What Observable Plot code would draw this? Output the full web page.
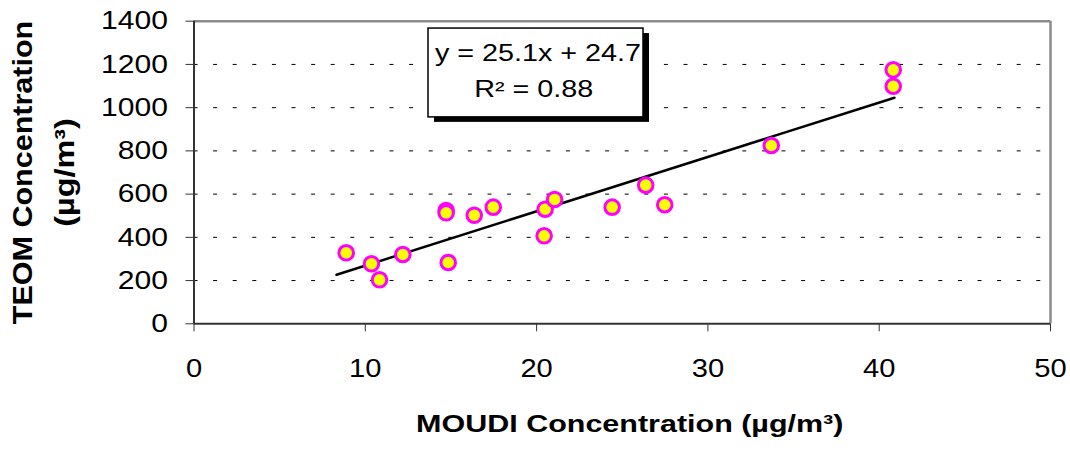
<!DOCTYPE html>
<html>
<head>
<meta charset="utf-8">
<script src="https://cdn.jsdelivr.net/npm/d3@7"></script>
<script src="https://cdn.jsdelivr.net/npm/@observablehq/plot@0.6"></script>
<style>
  html, body { margin: 0; padding: 0; background: #fff; }
  svg { display: block; }
</style>
</head>
<body>
<div id="chart"></div>
<script>
// ---- data ----
const moudi = [8.885, 10.36, 10.83, 12.19, 14.72, 14.72, 14.84, 16.36, 17.47, 20.44, 20.50, 21.05, 24.41, 26.37, 27.48, 33.70, 40.82, 40.82];
const teom  = [328.5, 277.6, 203.6, 320.7, 524.3, 513.6, 283.7, 502.5, 539.6, 407.2, 530.3, 575.2, 539.6, 641.4, 550.7, 825.0, 1175, 1099];
const trendX = [8.32, 40.89];
const trendY = [226.7, 1046];
const xTicks = [0, 10, 20, 30, 40, 50];
const yTicks = [0, 200, 400, 600, 800, 1000, 1200, 1400];
const gridY = [200, 400, 600, 800, 1000, 1200];
const eqLines = ["y = 25.1x + 24.7", "R\u00B2 = 0.88"];
const eqLineX = [20.08, 19.83];
const eqLineY = [1249, 1083];
const eqBoxX = [13.69, 26.24];
const eqBoxY = [955, 1366];
const xTitle = "MOUDI Concentration (\u00B5g/m\u00B3)";
const yTitle1 = "TEOM Concentration";
const yTitle2 = "(\u00B5g/m\u00B3)";

// ---- tables built from the arrays ----
const points = moudi.map((x, i) => ({x, y: teom[i]}));
const trend = trendX.map((x, i) => ({x, y: trendY[i]}));
const eq = eqLines.map((t, i) => ({t, x: eqLineX[i], y: eqLineY[i]}));
const box = [{x1: eqBoxX[0], x2: eqBoxX[1], y1: eqBoxY[0], y2: eqBoxY[1]}];

const font = "'Liberation Sans', Arial, Helvetica, sans-serif";

const svg = Plot.plot({
  width: 1070,
  height: 452,
  marginLeft: 193.5,
  marginRight: 20,
  marginTop: 20.7,
  marginBottom: 128.7,
  x: {domain: [0, 50]},
  y: {domain: [0, 1400]},
  style: {fontFamily: font, background: "#fff", color: "#000"},
  marks: [
    Plot.ruleY(gridY, {stroke: "#000", strokeWidth: 1, strokeDasharray: "4,15.6"}),
    Plot.ruleY([1400], {stroke: "#8c8c8c", strokeWidth: 2.5}),
    Plot.ruleX([50], {stroke: "#8c8c8c", strokeWidth: 2.5}),
    Plot.axisX({ticks: xTicks, tickSize: 8, tickPadding: 27, fontSize: 26, tickFormat: d => String(d), stroke: "#333", label: null}),
    Plot.axisY({ticks: yTicks, tickSize: 8, tickPadding: 18, fontSize: 25.5, tickFormat: d => String(d), stroke: "#333", label: null}),
    Plot.ruleY([0], {stroke: "#333", strokeWidth: 2}),
    Plot.ruleX([0], {stroke: "#333", strokeWidth: 2}),
    Plot.line(trend, {x: "x", y: "y", stroke: "#000", strokeWidth: 2.5}),
    Plot.dot(points, {x: "x", y: "y", r: 7.3, fill: "#ffff00", stroke: "#ff00ff", strokeWidth: 3}),
    Plot.rect(box, {x1: "x1", x2: "x2", y1: "y1", y2: "y2", fill: "#000", dx: 6, dy: 5}),
    Plot.rect(box, {x1: "x1", x2: "x2", y1: "y1", y2: "y2", fill: "#fff", stroke: "#000", strokeWidth: 1.5}),
    Plot.text(eq, {x: "x", y: "y", text: "t", fontSize: 23, fill: "#000"}),
    Plot.text([xTitle], {frameAnchor: "bottom", dx: 7.5, dy: 108, fontSize: 24, fontWeight: "bold", fill: "#000"}),
    Plot.text([yTitle1], {frameAnchor: "left", textAnchor: "middle", rotate: -90, dx: -170.5, fontSize: 28, fontWeight: "bold", fill: "#000"}),
    Plot.text([yTitle2], {frameAnchor: "left", textAnchor: "middle", rotate: -90, dx: -128.6, fontSize: 27, fontWeight: "bold", fill: "#000"})
  ]
});

document.getElementById("chart").append(svg);

// glyphs in the reference are wider than Arial: stretch along the baseline
function stretch(nodes, k) {
  nodes.forEach(t => {
    const L = t.getComputedTextLength();
    t.setAttribute("textLength", (L * k).toFixed(1));
    t.setAttribute("lengthAdjust", "spacingAndGlyphs");
  });
}
stretch(svg.querySelectorAll('g[aria-label="y-axis tick label"] text'), 1.18);
stretch(svg.querySelectorAll('g[aria-label="x-axis tick label"] text'), 1.12);
const factors = {};
factors[eqLines[0]] = 1.25;
factors[eqLines[1]] = 1.25;
factors[xTitle] = 1.27;
factors[yTitle1] = 1.09;
factors[yTitle2] = 1.2;
svg.querySelectorAll('g[aria-label="text"] text').forEach(t => {
  const k = factors[t.textContent];
  if (k) stretch([t], k);
});
</script>
</body>
</html>
